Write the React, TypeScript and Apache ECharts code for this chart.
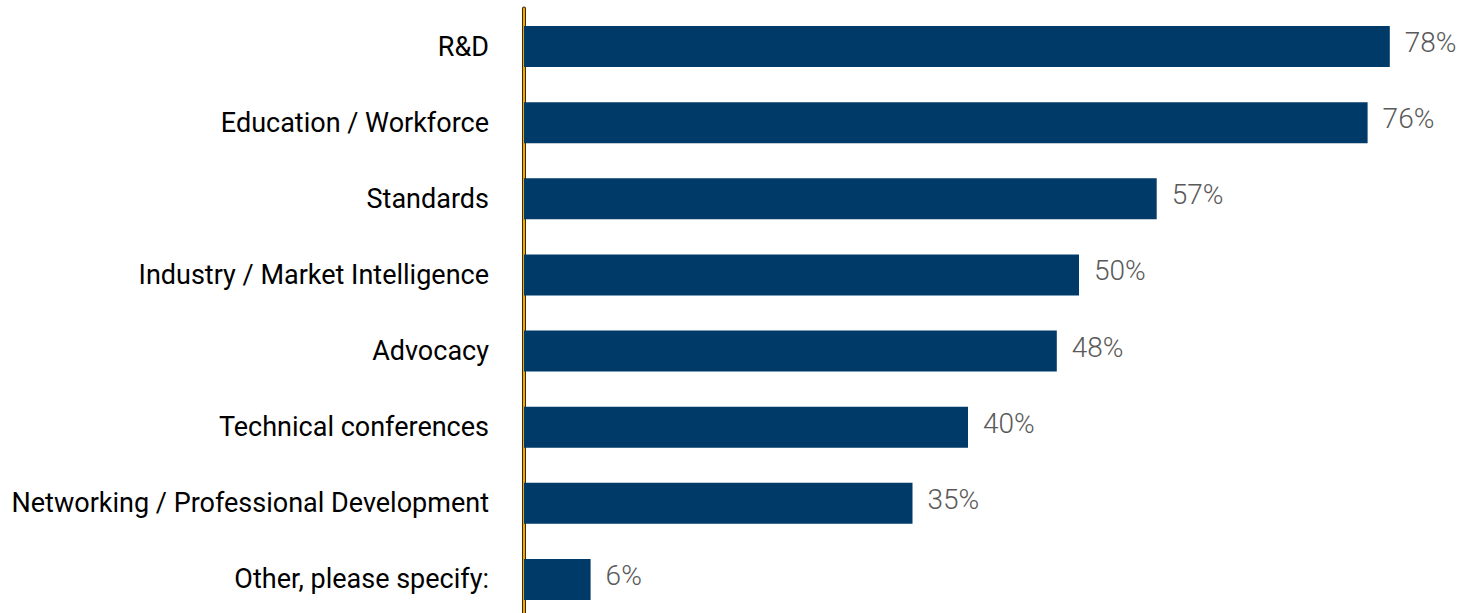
import React, { useEffect, useRef } from "react";
import * as echarts from "echarts";

const categories = [
  "R&D",
  "Education / Workforce",
  "Standards",
  "Industry / Market Intelligence",
  "Advocacy",
  "Technical conferences",
  "Networking / Professional Development",
  "Other, please specify:",
];
const values = [78, 76, 57, 50, 48, 40, 35, 6];

export default function App() {
  const ref = useRef<HTMLDivElement>(null);
  useEffect(() => {
    if (!ref.current) return;
    const chart = echarts.init(ref.current, undefined, { renderer: "svg" });
    chart.setOption({
      animation: false,
      grid: {
        left: 524,
        top: 8.5,
        height: 609,
        width: 943.5,
        containLabel: false,
        outerBoundsMode: "none",
      },
      xAxis: {
        type: "value",
        min: 0,
        max: 85,
        show: false,
      },
      yAxis: [
        {
          type: "category",
          data: categories,
          inverse: true,
          axisLine: { show: true, lineStyle: { color: "#3a2a00", width: 4 } },
          axisTick: { show: false },
          axisLabel: {
            margin: 35,
            color: "#000000",
            fontFamily: "Roboto",
            fontSize: 27,
          },
        },
        {
          type: "category",
          data: categories,
          inverse: true,
          position: "left",
          axisLine: { show: true, lineStyle: { color: "#F2A900", width: 2 } },
          axisTick: { show: false },
          axisLabel: { show: false },
        },
      ],
      series: [
        {
          type: "bar",
          data: values,
          barWidth: 41,
          itemStyle: { color: "#003A68" },
          label: {
            show: true,
            position: "right",
            distance: 15,
            offset: [0, -4],
            formatter: "{c}%",
            color: "#595959",
            fontFamily: "Roboto",
            fontWeight: 300,
            fontSize: 28,
          },
        },
      ],
    });
    return () => chart.dispose();
  }, []);
  return <div ref={ref} style={{ width: 1474, height: 613, position: "absolute", left: 0, top: 0 }} />;
}
